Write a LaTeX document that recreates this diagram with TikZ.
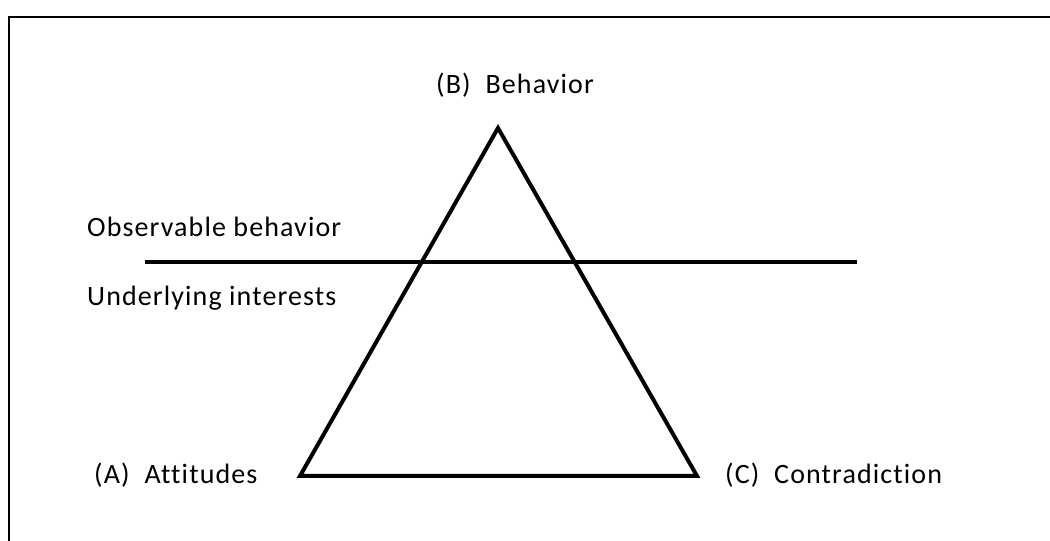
\documentclass[tikz,border=0pt]{standalone}
\usepackage{fontspec}
\setmainfont{Carlito}[Ligatures=NoCommon, LetterSpace=4]
\usepackage{tikz}
\usetikzlibrary{positioning}

\begin{document}
\begin{tikzpicture}[x=1pt, y=1pt, line join=miter]
      \useasboundingbox (0,0) rectangle (1050,541);
      \draw[line width=2.2pt] (9,0) -- (9,524) -- (1050,524);

      \coordinate (apexB) at (498,413);
      \coordinate (cornerA) at (300,65);
      \coordinate (cornerC) at (697,65);
      \coordinate (lineL) at (145,279);
      \coordinate (lineR) at (857,279);

      \node (labB) [anchor=base west, inner sep=0pt, font=\fontsize{28}{31}\selectfont] at (436,447) {(B)\ \ Behavior};
      \node (labA) [anchor=base west, inner sep=0pt, font=\fontsize{28}{31}\selectfont] at (94,57) {(A)\ \ Attitudes};
      \node (labC) [anchor=base west, inner sep=0pt, font=\fontsize{28}{31}\selectfont] at (725,57) {(C)\ \ Contradiction};
      \node (labObs) [anchor=base west, inner sep=0pt, font=\fontsize{28}{31}\selectfont] at (87,304) {Observable behavior};
      \node (labUnd) [anchor=base west, inner sep=0pt, font=\fontsize{28}{31}\selectfont] at (87,235) {Underlying interests};

      \draw[line width=4pt] (apexB) -- (cornerC) -- (cornerA) -- cycle;
      \draw[line width=4pt] (lineL) -- (lineR);
    \end{tikzpicture}
\end{document}
